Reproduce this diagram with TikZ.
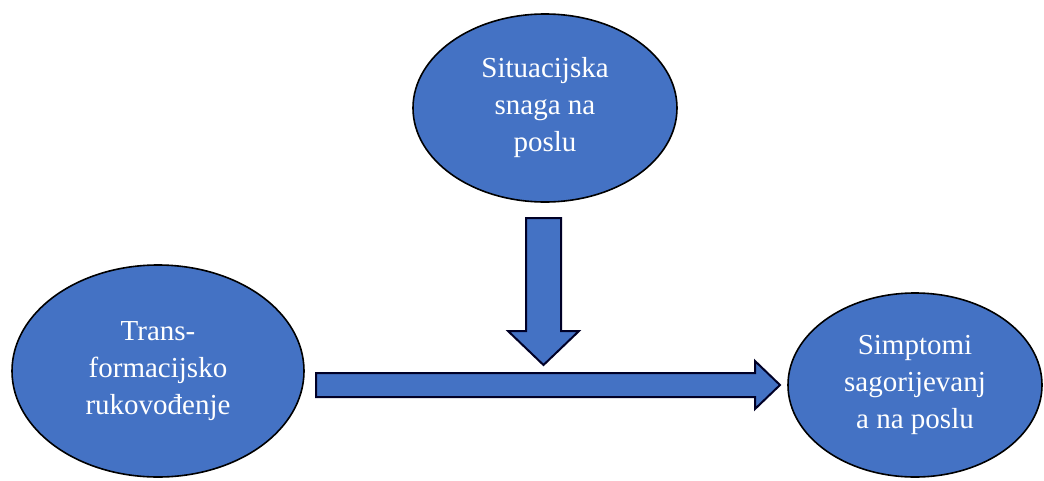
\documentclass[tikz,border=0pt]{standalone}
\usepackage{fontspec}
\setmainfont{Liberation Serif}
\usetikzlibrary{shapes.geometric}
\definecolor{ellfill}{HTML}{4472C4}

\tikzset{
	bubble/.style={ellipse, draw=black, line width=1.6pt, fill=ellfill, text=white, align=center, font=\fontsize{29}{37}\selectfont},
	block/.style={draw=black!85!blue, line width=2pt, fill=ellfill, line join=miter}
}

\begin{document}
\begin{tikzpicture}[x=1pt,y=-1pt]
\useasboundingbox (0,0) rectangle (1044,480);

\node (sit) at (545,108) [bubble,minimum width=264,minimum height=188] {Situacijska\\snaga na\\poslu};
\node (tra) at (158,371) [bubble,minimum width=292,minimum height=212] {Trans-\\formacijsko\\rukovođenje};
\node (sim) at (915,385) [bubble,minimum width=254,minimum height=184] {Simptomi\\sagorijevanj\\a na poslu};

\draw [block] (526,218) -- (561,218) -- (561,331) -- (579,331) -- (543.5,365) -- (508,331) -- (526,331) -- cycle;
\draw [block] (316,373) -- (755,373) -- (755,361) -- (780,385) -- (755,409) -- (755,397) -- (316,397) -- cycle;

\end{tikzpicture}
\end{document}
